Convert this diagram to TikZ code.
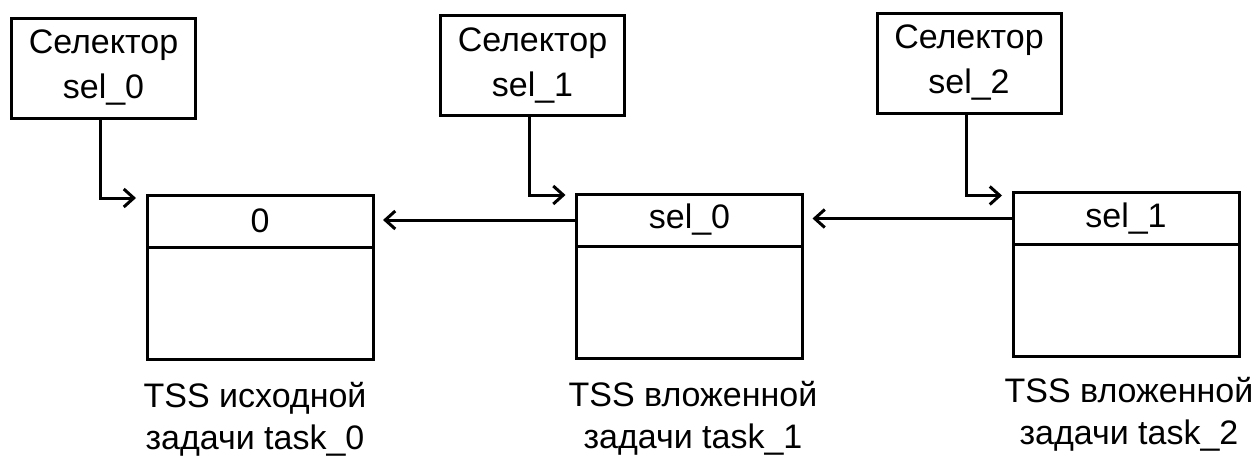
\documentclass[tikz,border=0pt]{standalone}
\usepackage{fontspec}
\setmainfont{Liberation Sans}
\usetikzlibrary{arrows.meta,calc}
\begin{document}
\begin{tikzpicture}[x=0.5pt,y=-0.5pt,
  line width=1.5pt,
  every node/.style={font=\fontsize{17}{22.5}\selectfont},
  selbox/.style={draw,rectangle,align=center,minimum width=92pt,minimum height=50pt,inner sep=0pt},
  tsshead/.style={draw,rectangle,minimum width=113pt,minimum height=26pt,inner sep=0pt,outer sep=0pt},
  tssbody/.style={draw,rectangle,minimum width=113pt,minimum height=56pt,inner sep=0pt,outer sep=0pt,anchor=north},
  caption/.style={align=center,inner sep=0pt,font=\fontsize{17}{21}\selectfont},
  arr/.style={-{Straight Barb[length=5pt,width=9pt]}}
]
\useasboundingbox (0,0) rectangle (1256,455);

% selector boxes
\node[selbox] (s1) at (103.5,68)  {Селектор\\sel\_0};
\node[selbox] (s2) at (532.5,65.5) {Селектор\\sel\_1};
\node[selbox] (s3) at (969,63)    {Селектор\\sel\_2};

% TSS boxes
\node[tsshead] (h1) at (260,221)    {0};
\node[tssbody] (b1) at (h1.south)   {};
\node[tsshead] (h2) at (689.5,220)  {sel\_0};
\node[tssbody] (b2) at (h2.south)   {};
\node[tsshead] (h3) at (1126,218.5) {sel\_1};
\node[tssbody] (b3) at (h3.south)   {};

% captions
\node[caption] (c1) at (255,419)  {TSS исходной\\задачи task\_0};
\node[caption] (c2) at (693,418)  {TSS вложенной\\задачи task\_1};
\node[caption] (c3) at (1129,414) {TSS вложенной\\задачи task\_2};

% arrow end points
\coordinate (e1) at ($(h1.north west)+(-11,3)$);
\coordinate (e2) at ($(h2.north west)+(-11,1)$);
\coordinate (e3) at ($(h3.north west)+(-11,3)$);
\coordinate (p1) at ($(h1.east |- h2.west)+(10,0)$);
\coordinate (p2) at ($(h2.east |- h3.west)+(10,0)$);

% selector -> TSS
\draw[arr] ($(s1.south)+(-3,0)$) |- (e1);
\draw[arr] ($(s2.south)+(-3,0)$) |- (e2);
\draw[arr] ($(s3.south)+(-3,0)$) |- (e3);

% back links
\draw[arr] (h2.west) -- (p1);
\draw[arr] (h3.west) -- (p2);
\end{tikzpicture}
\end{document}
